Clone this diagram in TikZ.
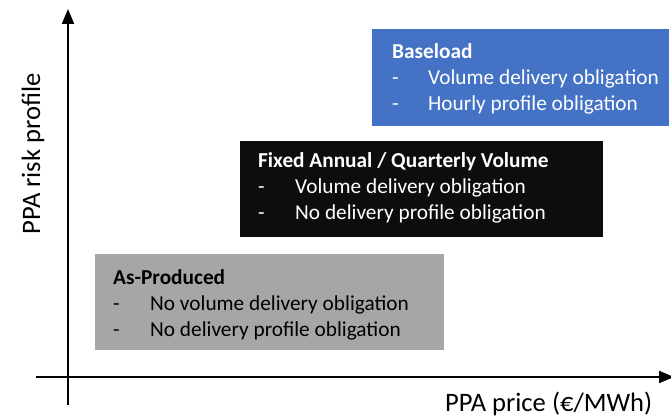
\documentclass[tikz,border=0pt]{standalone}
\usepackage{fontspec}
\setmainfont{Carlito}
\usetikzlibrary{arrows.meta}
\definecolor{boxblue}{HTML}{4472C4}
\definecolor{boxgray}{HTML}{A6A6A6}
\definecolor{boxblack}{HTML}{0D0D0D}
\begin{document}
\begin{tikzpicture}[x=1pt,y=1pt,
  panel/.style={draw=none, inner sep=0, anchor=north west},
  txt/.style={inner sep=0, anchor=base west, font=\fontsize{21.3}{25}\selectfont},
  axislabel/.style={inner sep=0, font=\fontsize{26.6}{30}\selectfont},
  axis/.style={line width=2pt, -{Triangle[width=12pt,length=15pt]}}]
\useasboundingbox (0,0) rectangle (671,418);
% axes
\coordinate (ybot) at (68,13);
\coordinate (ytop) at (68,409);
\coordinate (xleft) at (36,41);
\coordinate (xright) at (674,41);
\draw[axis] (ybot) -- (ytop);
\draw[axis] (xleft) -- (xright);
\node[axislabel, rotate=90] (ylab) at (33,264) {PPA risk profile};
\node[axislabel, anchor=base west] (xlab) at (445,7) {PPA price (€/MWh)};
% boxes
\node[panel, fill=boxblue, minimum width=297, minimum height=97] (base) at (372,389) {};
\node[txt, text=white] (baset) at (392,359) {\textbf{Baseload}};
\node[txt, text=white] (base1) at (392,333) {\makebox[36pt][l]{-}Volume delivery obligation};
\node[txt, text=white] (base2) at (392,307) {\makebox[36pt][l]{-}Hourly profile obligation};
\node[panel, fill=boxblack, minimum width=363, minimum height=96] (fixed) at (240,277) {};
\node[txt, text=white] (fixedt) at (258,250) {\textbf{Fixed Annual / Quarterly Volume}};
\node[txt, text=white] (fixed1) at (258,224) {\makebox[37pt][l]{-}Volume delivery obligation};
\node[txt, text=white] (fixed2) at (258,198) {\makebox[37pt][l]{-}No delivery profile obligation};
\node[panel, fill=boxgray, minimum width=349, minimum height=96] (asprod) at (95,164) {};
\node[txt, text=black] (asprodt) at (113,134) {\textbf{As-Produced}};
\node[txt, text=black] (asprod1) at (113,108) {\makebox[37pt][l]{-}No volume delivery obligation};
\node[txt, text=black] (asprod2) at (113,82) {\makebox[37pt][l]{-}No delivery profile obligation};
\end{tikzpicture}
\end{document}
